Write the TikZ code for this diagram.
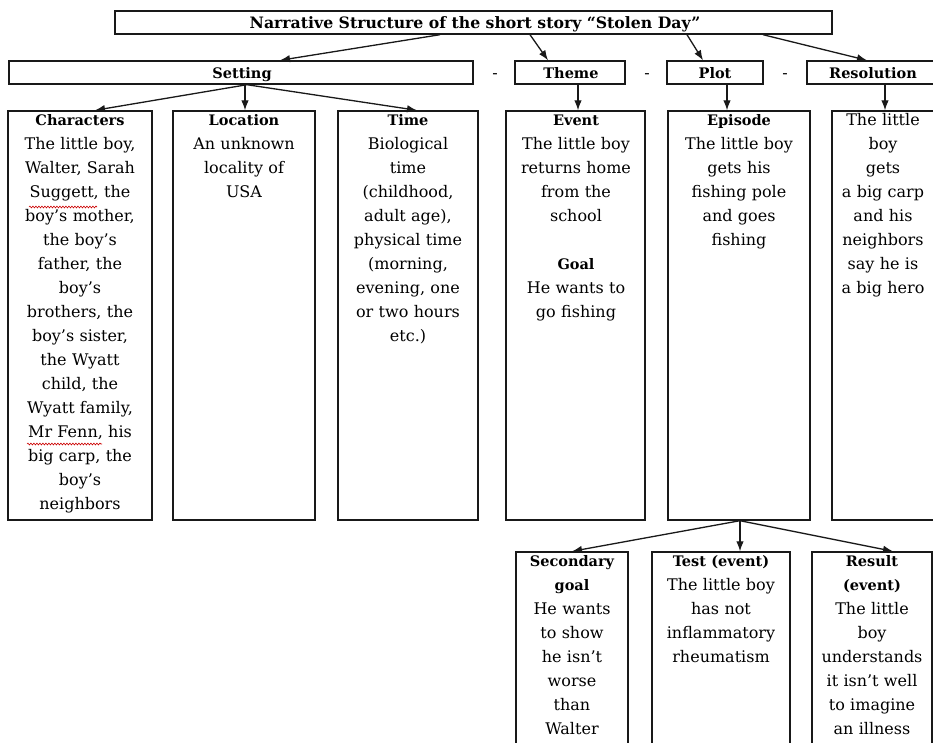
\documentclass[tikz,border=0pt]{standalone}
\usepackage{fontspec}
\setmainfont{DejaVu Serif}
\usetikzlibrary{arrows.meta,calc,decorations.pathmorphing}
\newcommand\bodyf{\fontsize{16}{24}\selectfont}
\newcommand\hdf{\fontsize{14.5}{24}\selectfont\bfseries}
\newcommand\ttlf{\fontsize{15.7}{18}\selectfont\bfseries}
\begin{document}
\begin{tikzpicture}[x=1pt,y=-1pt,
  box/.style={draw=black!90, line width=1.4pt, inner sep=0pt, fill=none},
  lbl/.style={inner sep=0pt, anchor=base},
  txt/.style={inner sep=0pt, anchor=base, align=center, text width=180pt, font=\bodyf},
  arr/.style={-{Latex[length=10pt,width=7.5pt]}, line width=1.3pt, draw=black!90},
  wavy/.style={draw=red!80!black, line width=0.6pt, decorate, decoration={snake, amplitude=0.9pt, segment length=3pt}}]
\useasboundingbox (0,0) rectangle (933,742);
\fill[white] (0,0) rectangle (933,742);

% title
\node[box, minimum width=717, minimum height=23] (title) at (473.5,22.5) {};
\node[lbl, font=\ttlf] (titleT) at (475,28.5) {Narrative Structure of the short story “Stolen Day”};

% second row
\node[box, minimum width=464, minimum height=23] (setting) at (241,72.5) {};
\node[lbl, font=\hdf] (settingT) at (242,78) {Setting};
\node[box, minimum width=110, minimum height=23] (theme) at (570,72.5) {};
\node[lbl, font=\hdf] (themeT) at (571,78) {Theme};
\node[box, minimum width=96, minimum height=23] (plot) at (715,72.5) {};
\node[lbl, font=\hdf] (plotT) at (715,78) {Plot};
\node[box, minimum width=140, minimum height=23] (res) at (877,72.5) {};
\node[lbl, font=\hdf] (resT) at (873,78) {Resolution};
\node[lbl, font=\bodyf] (d1) at (495,78) {-};
\node[lbl, font=\bodyf] (d2) at (647,78) {-};
\node[lbl, font=\bodyf] (d3) at (785,78) {-};

% third row boxes
\node[box, minimum width=144, minimum height=409] (chars) at (80,315.5) {};
\node[box, minimum width=142, minimum height=409] (loc) at (244,315.5) {};
\node[box, minimum width=140, minimum height=409] (time) at (408,315.5) {};
\node[box, minimum width=139, minimum height=409] (event) at (575.5,315.5) {};
\node[box, minimum width=142, minimum height=409] (episode) at (739,315.5) {};
\node[box, minimum width=102, minimum height=409] (resbox) at (883,315.5) {};

\node[txt] (charsT) at (80,125) {{\hdf Characters}\\The little boy,\\Walter, Sarah\\Suggett, the\\boy’s mother,\\the boy’s\\father, the\\boy’s\\brothers, the\\boy’s sister,\\the Wyatt\\child, the\\Wyatt family,\\Mr Fenn, his\\big carp, the\\boy’s\\neighbors};
\node[txt] (locT) at (244,125) {{\hdf Location}\\An unknown\\locality of\\USA};
\node[txt] (timeT) at (408,125) {{\hdf Time}\\Biological\\time\\(childhood,\\adult age),\\physical time\\(morning,\\evening, one\\or two hours\\etc.)};
\node[txt] (eventT) at (576,125) {{\hdf Event}\\The little boy\\returns home\\from the\\school\\[24pt]{\hdf Goal}\\He wants to\\go fishing};
\node[txt] (episodeT) at (739,125) {{\hdf Episode}\\The little boy\\gets his\\fishing pole\\and goes\\fishing};
\node[txt] (resboxT) at (883,125) {The little\\boy\\gets\\a big carp\\and his\\neighbors\\say he is\\a big hero};

% bottom row
\node[box, minimum width=112, minimum height=208] (sec) at (572,656) {};
\node[box, minimum width=138, minimum height=208] (test) at (721,656) {};
\node[box, minimum width=120, minimum height=208] (result) at (872,656) {};
\node[txt] (secT) at (572,566) {{\hdf Secondary}\\{\hdf goal}\\He wants\\to show\\he isn’t\\worse\\than\\Walter};
\node[txt] (testT) at (721,566) {{\hdf Test (event)}\\The little boy\\has not\\inflammatory\\rheumatism};
\node[txt] (resultT) at (872,566) {{\hdf Result}\\{\hdf (event)}\\The little\\boy\\understands\\it isn’t well\\to imagine\\an illness};

% spell-check marks
\coordinate (w1a) at (29,207); \coordinate (w1b) at (97,207);
\coordinate (w2a) at (27,444); \coordinate (w2b) at (102,444);
\draw[wavy] (w1a) -- (w1b);
\draw[wavy] (w2a) -- (w2b);

% arrows from title
\draw[arr] ([xshift=-33.5pt]title.south) -- ([xshift=39pt]setting.north);
\draw[arr] ([xshift=56.5pt]title.south) -- ([xshift=-22pt]theme.north);
\draw[arr] ([xshift=213.5pt]title.south) -- ([xshift=-12pt]plot.north);
\draw[arr] ([xshift=289.5pt]title.south) -- ([xshift=-10pt]res.north);

% arrows from setting
\draw[arr] ([xshift=6pt]setting.south) -- ([xshift=15pt]chars.north);
\draw[arr] ([xshift=4pt]setting.south) -- ([xshift=1pt]loc.north);
\draw[arr] ([xshift=6pt]setting.south) -- ([xshift=9pt]time.north);
\draw[arr] ([xshift=8pt]theme.south) -- ([xshift=2.5pt]event.north);
\draw[arr] ([xshift=12pt]plot.south) -- ([xshift=-12pt]episode.north);
\draw[arr] ([xshift=8pt]res.south) -- ([xshift=2pt]resbox.north);

% arrows from episode
\draw[arr] ([xshift=1pt]episode.south) -- (sec.north);
\draw[arr] ([xshift=1pt]episode.south) -- ([xshift=19pt]test.north);
\draw[arr] ([xshift=1pt]episode.south) -- ([xshift=21pt]result.north);
\end{tikzpicture}
\end{document}
